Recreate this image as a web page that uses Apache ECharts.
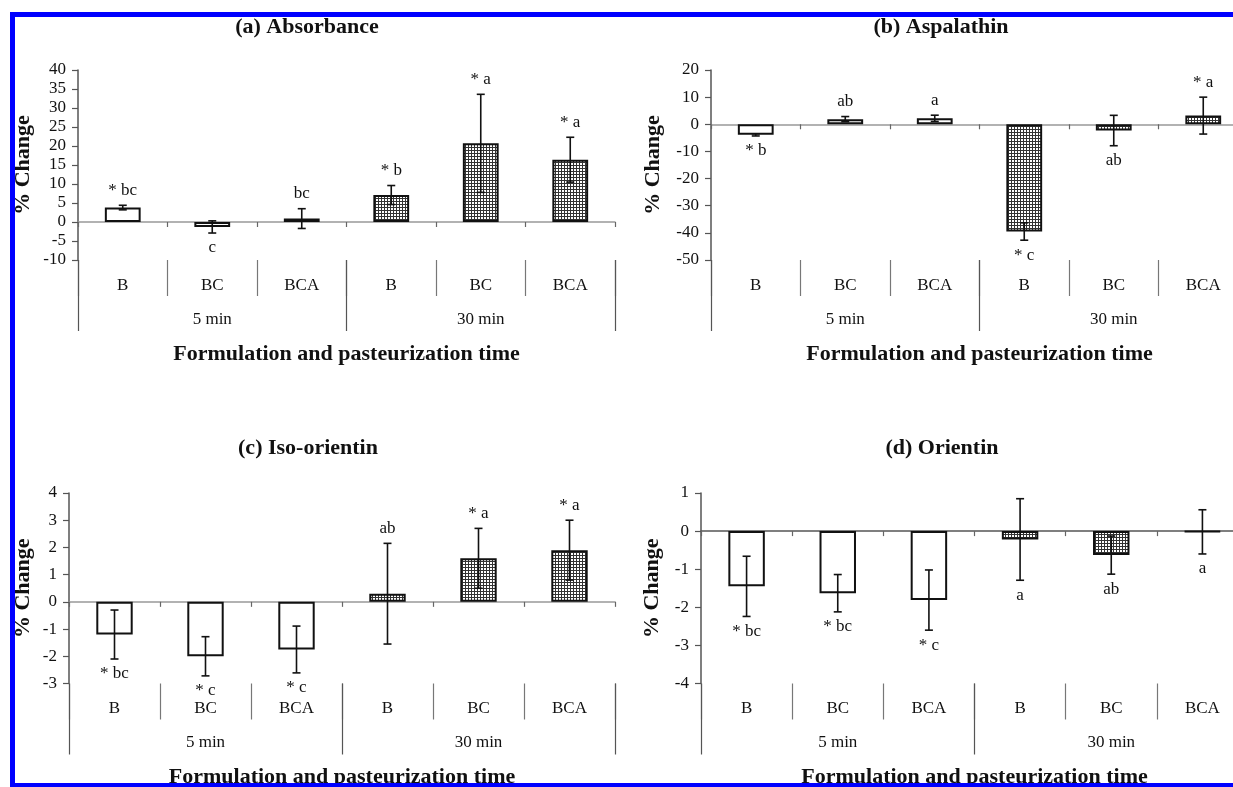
<!DOCTYPE html>
<html><head><meta charset="utf-8">
<script src="https://cdn.jsdelivr.net/npm/echarts@6/dist/echarts.min.js"></script>
<style>html,body{margin:0;padding:0;background:#fff;overflow:hidden}#c{width:1233px;height:787px}</style>
</head><body><div id="c"></div>
<script>
// ---- data ----
const categories = ['B', 'BC', 'BCA', 'B', 'BC', 'BCA'];
const groups = ['5 min', '30 min'];
const xAxisTitle = 'Formulation and pasteurization time';
const yAxisTitle = '% Change';

const titleA = '(a) Absorbance';
const yRangeA = [-10, 40, 5];
const meanA = [3.8, -1.3, 0.9, 7.1, 20.7, 16.4];
const errA = [0.6, 1.6, 2.6, 2.5, 12.9, 5.9];
const sigA = ['* bc', 'c', 'bc', '* b', '* a', '* a'];
const sideA = ['top', 'bottom', 'top', 'top', 'top', 'top'];

const titleB = '(b) Aspalathin';
const yRangeB = [-50, 20, 10];
const meanB = [-3.9, 1.9, 2.2, -39.5, -2.3, 3.2];
const errB = [0.4, 0.95, 1.15, 3.2, 5.6, 6.8];
const sigB = ['* b', 'ab', 'a', '* c', 'ab', '* a'];
const sideB = ['bottom', 'top', 'top', 'bottom', 'bottom', 'top'];

const titleC = '(c) Iso-orientin';
const yRangeC = [-3, 4, 1];
const meanC = [-1.2, -2.0, -1.75, 0.3, 1.6, 1.9];
const errC = [0.9, 0.72, 0.86, 1.85, 1.1, 1.1];
const sigC = ['* bc', '* c', '* c', 'ab', '* a', '* a'];
const sideC = ['bottom', 'bottom', 'bottom', 'top', 'top', 'top'];

const titleD = '(d) Orientin';
const yRangeD = [-4, 1, 1];
const meanD = [-1.45, -1.63, -1.81, -0.22, -0.63, -0.02];
const errD = [0.79, 0.49, 0.79, 1.07, 0.5, 0.58];
const sigD = ['* bc', '* bc', '* c', 'a', 'ab', 'a'];
const sideD = ['bottom', 'bottom', 'bottom', 'bottom', 'bottom', 'bottom'];

// ---- styling / layout ----
const FONT = '"Liberation Serif", "Times New Roman", serif';
const pc = document.createElement('canvas');
pc.width = 3; pc.height = 3;
const pctx = pc.getContext('2d');
pctx.fillStyle = '#333333'; pctx.fillRect(0, 0, 3, 3);
pctx.fillStyle = '#ffffff'; pctx.fillRect(1, 1, 2, 2);
const patternFill = { image: pc, repeat: 'repeat' };

const panels = [
  { title: titleA, yr: yRangeA, mean: meanA, err: errA, sig: sigA, side: sideA,
    grid: { left: 78, top: 70, width: 537, height: 190 }, titlePos: [307, 16], nameGap: 44, zeroColor: '#999' },
  { title: titleB, yr: yRangeB, mean: meanB, err: errB, sig: sigB, side: sideB,
    grid: { left: 711, top: 70, width: 537, height: 190 }, titlePos: [941, 16], nameGap: 47, zeroColor: '#999' },
  { title: titleC, yr: yRangeC, mean: meanC, err: errC, sig: sigC, side: sideC,
    grid: { left: 69, top: 493, width: 546, height: 190.5 }, titlePos: [308, 437], nameGap: 35, zeroColor: '#999' },
  { title: titleD, yr: yRangeD, mean: meanD, err: errD, sig: sigD, side: sideD,
    grid: { left: 701, top: 493, width: 547, height: 190.5 }, titlePos: [942, 437], nameGap: 38, zeroColor: '#555' }
];

const option = { animation: false, backgroundColor: '#fff', title: [], grid: [], xAxis: [], yAxis: [], series: [],
  graphic: [
    { type: 'rect', z: 100, shape: { x: 10, y: 12, width: 1223, height: 5 }, style: { fill: '#0000ff' } },
    { type: 'rect', z: 100, shape: { x: 10, y: 12, width: 5, height: 775 }, style: { fill: '#0000ff' } },
    { type: 'rect', z: 100, shape: { x: 10, y: 783, width: 1223, height: 4 }, style: { fill: '#0000ff' } }
  ] };

panels.forEach((p, k) => {
  option.title.push({ text: p.title, left: p.titlePos[0], top: p.titlePos[1], textAlign: 'center', padding: 0,
    textStyle: { fontFamily: FONT, fontSize: 22, fontWeight: 'bold', color: '#111', lineHeight: 22 } });
  option.grid.push(Object.assign({ containLabel: false, outerBoundsMode: 'none' }, p.grid));
  const gx = k * 3;
  option.xAxis.push({ type: 'category', gridIndex: k, data: categories, boundaryGap: true,
    axisLine: { onZero: true, lineStyle: { color: p.zeroColor, width: 1.5 } },
    axisTick: { show: true, interval: 0, length: 5, lineStyle: { color: '#666', width: 1.2 } },
    axisLabel: { show: false }, splitLine: { show: false } });
  option.xAxis.push({ type: 'category', gridIndex: k, data: categories, position: 'bottom', boundaryGap: true,
    axisLine: { show: false, onZero: false },
    axisTick: { show: true, interval: 0, length: 36, lineStyle: { color: '#777', width: 1.2 } },
    axisLabel: { interval: 0, margin: 17, fontSize: 17, fontFamily: FONT, color: '#111' }, splitLine: { show: false } });
  option.xAxis.push({ type: 'category', gridIndex: k, data: groups, position: 'bottom', boundaryGap: true,
    axisLine: { show: false, onZero: false },
    axisTick: { show: true, interval: 0, length: 71, lineStyle: { color: '#555', width: 1.2 } },
    axisLabel: { interval: 0, margin: 51, fontSize: 17, fontFamily: FONT, color: '#111' },
    name: xAxisTitle, nameLocation: 'middle', nameGap: 83, nameMoveOverlap: false,
    nameTextStyle: { fontFamily: FONT, fontSize: 22, fontWeight: 'bold', color: '#111' }, splitLine: { show: false } });
  option.yAxis.push({ type: 'value', gridIndex: k, min: p.yr[0], max: p.yr[1], interval: p.yr[2],
    axisLine: { show: true, onZero: false, lineStyle: { color: '#555', width: 1.5 } },
    axisTick: { show: true, length: 6, lineStyle: { color: '#555', width: 1.2 } },
    axisLabel: { margin: 12, fontSize: 17, fontFamily: FONT, color: '#111' }, splitLine: { show: false },
    name: yAxisTitle, nameLocation: 'middle', nameGap: p.nameGap, nameRotate: 90, nameMoveOverlap: false,
    nameTextStyle: { fontFamily: FONT, fontSize: 22, fontWeight: 'bold', color: '#111' } });

  option.series.push({ type: 'bar', xAxisIndex: gx, yAxisIndex: k, barWidth: '40%', z: 2,
    data: p.mean.map((v, i) => ({ value: v, itemStyle: { color: i < 3 ? '#ffffff' : patternFill, borderColor: '#111', borderWidth: 2 } })) });

  option.series.push({ type: 'custom', xAxisIndex: gx, yAxisIndex: k, z: 5,
    data: p.mean.map((m, i) => [i, m, p.err[i]]),
    renderItem: (params, api) => {
      const x = api.value(0), m = api.value(1), e = api.value(2);
      const t = api.coord([x, m + e]), b = api.coord([x, m - e]);
      const cw = 4, st = { stroke: '#111', lineWidth: 1.6 };
      return { type: 'group', children: [
        { type: 'line', shape: { x1: t[0], y1: t[1], x2: b[0], y2: b[1] }, style: st },
        { type: 'line', shape: { x1: t[0] - cw, y1: t[1], x2: t[0] + cw, y2: t[1] }, style: st },
        { type: 'line', shape: { x1: b[0] - cw, y1: b[1], x2: b[0] + cw, y2: b[1] }, style: st }
      ] };
    } });

  option.series.push({ type: 'custom', xAxisIndex: gx, yAxisIndex: k, z: 6,
    data: p.mean.map((m, i) => [i, p.side[i] === 'top' ? m + p.err[i] : m - p.err[i], p.side[i] === 'top' ? -1 : 1]),
    renderItem: (params, api) => {
      const c = api.coord([api.value(0), api.value(1)]);
      const dir = api.value(2);
      return { type: 'text', x: c[0], y: c[1] + dir * 15,
        style: { text: p.sig[params.dataIndex], fontFamily: FONT, fontSize: 17, fill: '#111', align: 'center', verticalAlign: 'middle' } };
    } });
});

const chart = echarts.init(document.getElementById('c'), null, { renderer: 'canvas' });
chart.setOption(option);
</script></body></html>
